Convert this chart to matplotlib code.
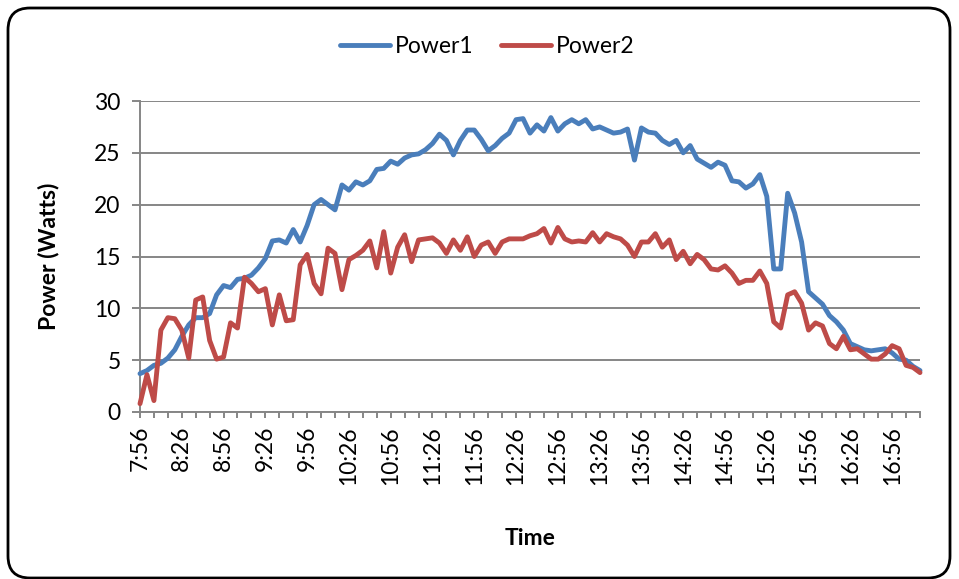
import matplotlib
matplotlib.use("Agg")
import matplotlib.pyplot as plt
from matplotlib.patches import FancyBboxPatch
from matplotlib.transforms import IdentityTransform

plt.rcParams['font.family'] = ['Lato', 'DejaVu Sans']

# categories: 5-minute readings from 7:56 to 17:16
start_hour, start_min, step_min, n_points = 7, 56, 5, 113
times = []
for k in range(n_points):
    t = start_hour * 60 + start_min + k * step_min
    times.append(f"{t // 60}:{t % 60:02d}")

power1 = [3.7, 4.0, 4.5, 4.7, 5.2, 6.0, 7.3, 8.4, 9.1, 9.1,
          9.5, 11.3, 12.2, 12.0, 12.8, 12.9, 13.2, 13.9, 14.8, 16.5,
          16.6, 16.3, 17.6, 16.4, 18.0, 20.0, 20.5, 20.0, 19.5, 21.9,
          21.4, 22.2, 21.9, 22.3, 23.4, 23.5, 24.2, 23.9, 24.5, 24.8,
          24.9, 25.3, 25.9, 26.8, 26.2, 24.8, 26.2, 27.2, 27.2, 26.3,
          25.2, 25.7, 26.4, 26.9, 28.2, 28.3, 26.9, 27.7, 27.1, 28.4,
          27.1, 27.8, 28.2, 27.8, 28.2, 27.3, 27.5, 27.2, 26.9, 27.0,
          27.3, 24.3, 27.4, 27.0, 26.9, 26.2, 25.8, 26.2, 25.0, 25.7,
          24.4, 24.0, 23.6, 24.1, 23.8, 22.3, 22.2, 21.6, 22.0, 22.9,
          20.8, 13.8, 13.8, 21.1, 19.2, 16.4, 11.6, 11.0, 10.4, 9.3,
          8.7, 7.9, 6.6, 6.3, 6.0, 5.9, 6.0, 6.1, 5.7, 5.1,
          5.0, 4.4, 4.0]

power2 = [0.8, 3.6, 1.1, 7.9, 9.1, 9.0, 7.9, 5.2, 10.8, 11.1,
          6.9, 5.1, 5.3, 8.6, 8.1, 13.0, 12.4, 11.6, 11.9, 8.4,
          11.3, 8.8, 8.9, 14.2, 15.2, 12.4, 11.4, 15.8, 15.3, 11.8,
          14.7, 15.1, 15.6, 16.5, 13.9, 17.4, 13.4, 15.9, 17.1, 14.5,
          16.6, 16.7, 16.8, 16.3, 15.3, 16.6, 15.6, 16.9, 15.0, 16.1,
          16.4, 15.3, 16.4, 16.7, 16.7, 16.7, 17.0, 17.2, 17.7, 16.3,
          17.8, 16.7, 16.4, 16.5, 16.4, 17.3, 16.4, 17.2, 16.9, 16.7,
          16.1, 15.0, 16.4, 16.4, 17.2, 15.9, 16.6, 14.7, 15.5, 14.3,
          15.2, 14.7, 13.8, 13.7, 14.1, 13.4, 12.4, 12.7, 12.7, 13.6,
          12.4, 8.7, 8.1, 11.3, 11.6, 10.5, 7.9, 8.6, 8.3, 6.6,
          6.1, 7.3, 6.0, 6.1, 5.6, 5.1, 5.1, 5.6, 6.4, 6.1,
          4.5, 4.3, 3.8]

series_names = ["Power1", "Power2"]
y_ticks = [0, 5, 10, 15, 20, 25, 30]
label_every = 6
tick_every = 2

BLUE = "#4A7EBB"
RED = "#BE4B48"
GRID = "#868686"
FS = 16.5

fig = plt.figure(figsize=(9.59, 5.79), dpi=100)
ax = fig.add_axes([140 / 959, (579 - 412) / 579, (920 - 140) / 959, (412 - 101) / 579])

x = list(range(len(times)))
l1, = ax.plot(x, power1, color=BLUE, lw=3.5, solid_joinstyle='round',
              solid_capstyle='round', clip_on=False, zorder=3, label=series_names[0])
l2, = ax.plot(x, power2, color=RED, lw=3.5, solid_joinstyle='round',
              solid_capstyle='round', clip_on=False, zorder=4, label=series_names[1])

ax.set_xlim(0, len(times) - 1)
ax.set_ylim(y_ticks[0], y_ticks[-1])
ax.set_yticks(y_ticks)
ax.set_yticklabels([str(v) for v in y_ticks], fontsize=FS)

major_pos = x[::label_every]
ax.set_xticks(major_pos)
ax.set_xticklabels([times[i] for i in major_pos], rotation=90, fontsize=FS)
ax.set_xticks(x[::tick_every], minor=True)

ax.grid(axis='y', color=GRID, lw=1.4, zorder=1)
ax.set_axisbelow(True)
for s in ['top', 'right']:
    ax.spines[s].set_visible(False)
for s in ['left', 'bottom']:
    ax.spines[s].set_color(GRID)
    ax.spines[s].set_linewidth(1.4)

ax.tick_params(axis='y', which='major', direction='out', length=6, width=1.4,
               color=GRID, pad=8)
ax.tick_params(axis='x', which='both', direction='out', length=4, width=1.4,
               color=GRID, pad=6)

ax.set_ylabel("Power (Watts)", fontsize=FS, fontweight='bold')
ax.set_xlabel("Time", fontsize=FS, fontweight='bold', labelpad=31)
ax.yaxis.set_label_coords(-(140 - 59) / 780, 0.5)

fig.legend(handles=[l1, l2], loc='center', bbox_to_anchor=(0.508, 0.919),
           ncol=2, frameon=False, fontsize=FS, handlelength=2.2,
           handletextpad=0.2, columnspacing=1.2)

border = FancyBboxPatch((8, 1), 942, 570, boxstyle="round,pad=0,rounding_size=22",
                        transform=IdentityTransform(), fill=False,
                        edgecolor='black', lw=2.0)
fig.add_artist(border)

fig.savefig("out.png", dpi=100, facecolor='white')
